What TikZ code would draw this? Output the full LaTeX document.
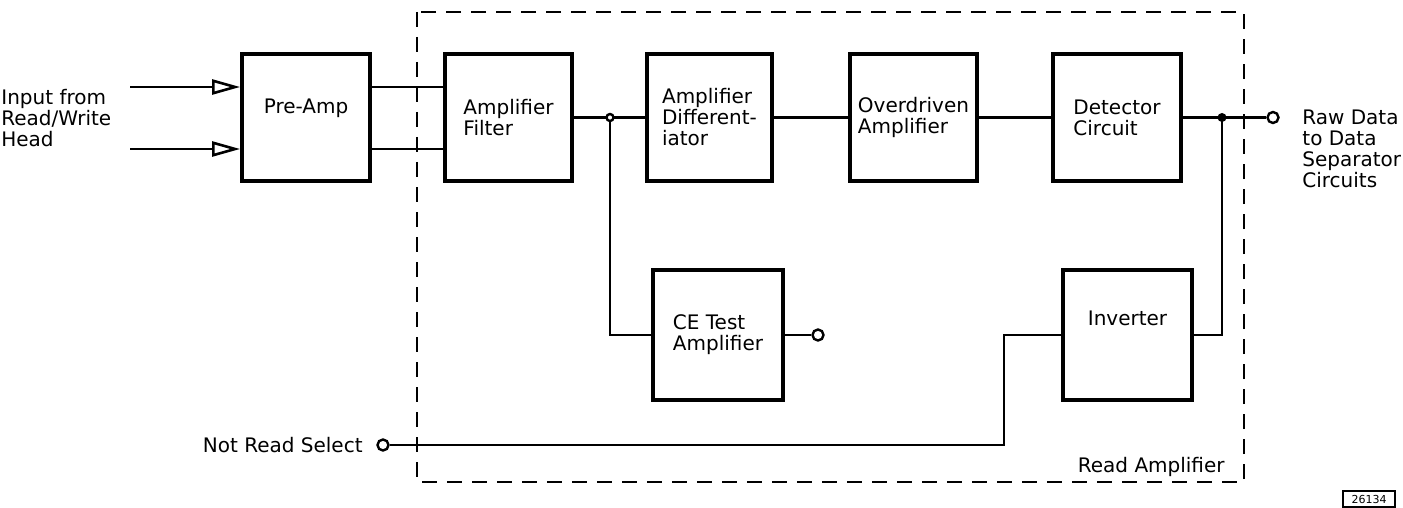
\documentclass[tikz,border=0pt]{standalone}
\usepackage{fontspec}
\setmainfont{DejaVu Sans}
\usetikzlibrary{arrows.meta}
\begin{document}
\begin{tikzpicture}[x=0.5pt,y=-0.5pt,
  txt/.style={font=\fontsize{10}{10.5}\selectfont},
  blk/.style={draw,line width=1.9pt,align=left,inner sep=0pt,txt,minimum height=63.5pt},
  wire/.style={line width=1.2pt},
  lbl/.style={align=left,inner sep=0pt,txt},
  term/.style={circle,draw,line width=1.2pt,fill=white,minimum size=5.5pt,inner sep=0pt},
  inarrow/.style={wire,-{Triangle[open,length=14pt,width=7.5pt,line width=1.3pt]}}]
\useasboundingbox (0,0) rectangle (1403,508);

% dashed read amplifier outline
\draw[line width=1.3pt,dash pattern=on 7.5pt off 5pt] (417,12) rectangle (1244,482);

% blocks
\node[blk,minimum width=64pt,text height=7pt,text depth=11pt] (pre) at (306,117.5) {Pre-Amp};
\node[blk,minimum width=63.5pt] (af) at (508.5,117.5) {Amplifier\\Filter};
\node[blk,minimum width=62.5pt] (ad) at (709.5,117.5) {Amplifier\\Different-\\iator};
\node[blk,minimum width=63.5pt] (od) at (913.5,117.5) {Overdriven\\Amplifier};
\node[blk,minimum width=64pt] (det) at (1117,117.5) {Detector\\Circuit};
\node[blk,minimum width=65pt,minimum height=65pt] (ce) at (718,335) {CE Test\\Amplifier};
\node[blk,minimum width=64.5pt,minimum height=65pt,text height=7pt,text depth=17pt] (inv) at (1127.5,335) {Inverter};

% labels
\node[lbl,anchor=west] (intxt) at (1,118) {Input from\\Read/Write\\Head};
\node[lbl,anchor=west] (rawtxt) at (1302,149) {Raw Data\\to Data\\Separator\\Circuits};
\node[lbl,anchor=east] (nrstxt) at (363,445) {Not Read Select};
\node[lbl,anchor=east] (ratxt) at (1225,467) {Read Amplifier};
\node[draw,line width=0.7pt,font=\fontsize{5.5}{6}\selectfont,inner sep=1pt,minimum width=26pt,minimum height=8pt] (fig) at (1369,499) {26134};

% terminals and junctions
\node[term] (ceo) at (818,335) {};
\node[term] (out) at (1273,117.5) {};
\node[term] (nrs) at (383,445) {};
\coordinate (in1) at (130,87);
\coordinate (in2) at (130,149);
\coordinate (j1) at (610,117.5);
\coordinate (j2) at (1222,117.5);
\coordinate (bend) at (1004,445);

% inputs
\draw[inarrow] (in1) -- (in1 -| pre.west);
\draw[inarrow] (in2) -- (in2 -| pre.west);
\draw[wire] (in1 -| pre.east) -- (in1 -| af.west);
\draw[wire] (in2 -| pre.east) -- (in2 -| af.west);

% main chain
\draw[wire] (af.east) -- (ad.west);
\draw[wire] (ad.east) -- (od.west);
\draw[wire] (od.east) -- (det.west);
\draw[wire] (det.east) -- (out.west);
\draw[wire] (j1) |- (ce.west);
\draw[wire] (ce.east) -- (ceo.west);
\draw[wire] (inv.east) -| (j2);
\draw[wire] (nrs.east) -- (bend) |- (inv.west);

\draw[line width=1.2pt,fill=white] (j1) circle (3.5);
\fill (j2) circle (4.5);
\end{tikzpicture}
\end{document}
